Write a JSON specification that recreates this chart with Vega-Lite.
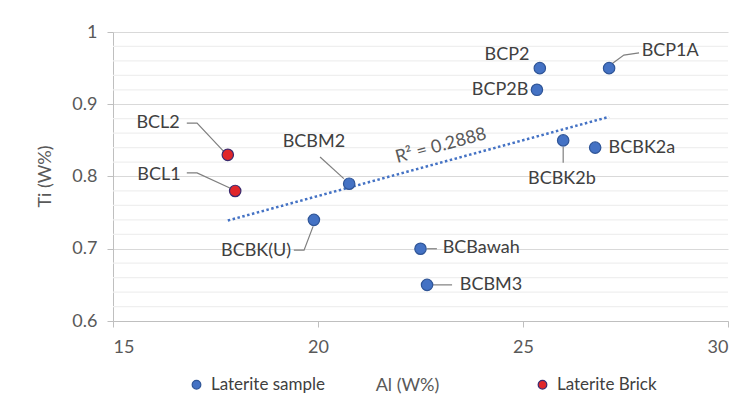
{
  "$schema": "https://vega.github.io/schema/vega-lite/v6.json",
  "width": 615,
  "height": 289,
  "autosize": {"type": "none"},
  "padding": {"left": 113, "top": 32, "right": 25, "bottom": 99},
  "background": "white",
  "config": {
    "font": "Lato",
    "view": {"stroke": null},
    "axis": {"labelFont": "Lato", "titleFont": "Lato"}
  },
  "datasets": {
    "pts": [
      {"name": "BCL2", "al": 17.8, "ti": 0.83, "type": "Laterite Brick"},
      {"name": "BCL1", "al": 17.98, "ti": 0.78, "type": "Laterite Brick"},
      {"name": "BCBM2", "al": 20.76, "ti": 0.79, "type": "Laterite sample"},
      {"name": "BCBK(U)", "al": 19.9, "ti": 0.74, "type": "Laterite sample"},
      {"name": "BCBawah", "al": 22.5, "ti": 0.70, "type": "Laterite sample"},
      {"name": "BCBM3", "al": 22.66, "ti": 0.65, "type": "Laterite sample"},
      {"name": "BCP2", "al": 25.41, "ti": 0.95, "type": "Laterite sample"},
      {"name": "BCP2B", "al": 25.34, "ti": 0.92, "type": "Laterite sample"},
      {"name": "BCP1A", "al": 27.1, "ti": 0.95, "type": "Laterite sample"},
      {"name": "BCBK2b", "al": 25.98, "ti": 0.85, "type": "Laterite sample"},
      {"name": "BCBK2a", "al": 26.76, "ti": 0.84, "type": "Laterite sample"}
    ],
    "minor": [
      {"v": 0.62}, {"v": 0.64}, {"v": 0.66}, {"v": 0.68},
      {"v": 0.72}, {"v": 0.74}, {"v": 0.76}, {"v": 0.78},
      {"v": 0.82}, {"v": 0.84}, {"v": 0.86}, {"v": 0.88},
      {"v": 0.92}, {"v": 0.94}, {"v": 0.96}, {"v": 0.98}
    ],
    "labels": [
      {"name": "BCL2", "lx": 16.1, "ly": 0.874},
      {"name": "BCL1", "lx": 16.12, "ly": 0.802},
      {"name": "BCBM2", "lx": 19.9, "ly": 0.848},
      {"name": "BCBK(U)", "lx": 18.49, "ly": 0.697},
      {"name": "BCBawah", "lx": 23.98, "ly": 0.701},
      {"name": "BCBM3", "lx": 24.22, "ly": 0.65},
      {"name": "BCP2", "lx": 24.61, "ly": 0.968},
      {"name": "BCP2B", "lx": 24.44, "ly": 0.92},
      {"name": "BCP1A", "lx": 28.59, "ly": 0.974},
      {"name": "BCBK2b", "lx": 25.95, "ly": 0.797},
      {"name": "BCBK2a", "lx": 27.9, "ly": 0.839}
    ],
    "leaders": [
      {"name": "BCL2", "k": 1, "x": 16.8, "y": 0.874},
      {"name": "BCL2", "k": 2, "x": 17.05, "y": 0.874},
      {"name": "BCL2", "k": 3, "x": 17.71, "y": 0.834},
      {"name": "BCL1", "k": 1, "x": 16.8, "y": 0.805},
      {"name": "BCL1", "k": 2, "x": 17.05, "y": 0.805},
      {"name": "BCL1", "k": 3, "x": 17.85, "y": 0.784},
      {"name": "BCBM2", "k": 1, "x": 20.05, "y": 0.827},
      {"name": "BCBM2", "k": 2, "x": 20.63, "y": 0.797},
      {"name": "BCBK(U)", "k": 1, "x": 19.41, "y": 0.698},
      {"name": "BCBK(U)", "k": 2, "x": 19.66, "y": 0.698},
      {"name": "BCBK(U)", "k": 3, "x": 19.88, "y": 0.731},
      {"name": "BCBawah", "k": 1, "x": 22.66, "y": 0.70},
      {"name": "BCBawah", "k": 2, "x": 22.9, "y": 0.70},
      {"name": "BCBM3", "k": 1, "x": 22.8, "y": 0.65},
      {"name": "BCBM3", "k": 2, "x": 23.27, "y": 0.65},
      {"name": "BCP1A", "k": 1, "x": 27.17, "y": 0.956},
      {"name": "BCP1A", "k": 2, "x": 27.46, "y": 0.968},
      {"name": "BCP1A", "k": 3, "x": 27.83, "y": 0.971},
      {"name": "BCBK2b", "k": 1, "x": 25.98, "y": 0.841},
      {"name": "BCBK2b", "k": 2, "x": 25.98, "y": 0.819}
    ],
    "rsq": [{"t": "R² = 0.2888", "x": 23.0, "y": 0.842}]
  },
  "layer": [
    {
      "data": {"name": "minor"},
      "mark": {"type": "rule", "color": "#efefef", "strokeWidth": 1.2},
      "encoding": {
        "y": {"field": "v", "type": "quantitative"}
      }
    },
    {
      "data": {"name": "pts"},
      "mark": {"type": "point", "opacity": 0},
      "encoding": {
        "x": {
          "field": "al", "type": "quantitative",
          "scale": {"domain": [15, 30], "nice": false, "zero": false},
          "axis": {
            "values": [15, 20, 25, 30], "grid": false, "title": "Al (W%)",
            "domainColor": "#bfbfbf", "tickColor": "#bfbfbf", "tickSize": 6,
            "labelFontSize": 18, "labelColor": "#595959", "labelPadding": 11,
            "titleFontSize": 18, "titleFontWeight": "normal", "titleColor": "#595959",
            "titleX": 294, "titleY": 64, "titleBaseline": "middle"
          }
        },
        "y": {
          "field": "ti", "type": "quantitative",
          "scale": {"domain": [0.6, 1], "nice": false, "zero": false},
          "axis": {
            "values": [0.6, 0.7, 0.8, 0.9, 1],
            "format": ".1~f",
            "grid": true, "gridColor": "#d9d9d9", "gridWidth": 1.2, "title": "Ti (W%)",
            "domainColor": "#bfbfbf", "tickColor": "#bfbfbf", "tickSize": 6,
            "labelFontSize": 18, "labelColor": "#595959", "labelPadding": 10,
            "titleFontSize": 18, "titleFontWeight": "normal", "titleColor": "#595959",
            "titleX": -68, "titleY": 144, "titleAngle": -90, "titleBaseline": "middle", "titleAlign": "center"
          }
        }
      }
    },
    {
      "data": {"name": "pts"},
      "transform": [{"regression": "ti", "on": "al"}],
      "mark": {"type": "line", "color": "#4472C4", "strokeWidth": 2.5, "strokeDash": [2.5, 2.5]},
      "encoding": {
        "x": {"field": "al", "type": "quantitative"},
        "y": {"field": "ti", "type": "quantitative"}
      }
    },
    {
      "data": {"name": "leaders"},
      "mark": {"type": "line", "color": "#7f7f7f", "strokeWidth": 1.2},
      "encoding": {
        "x": {"field": "x", "type": "quantitative"},
        "y": {"field": "y", "type": "quantitative"},
        "detail": {"field": "name"},
        "order": {"field": "k"}
      }
    },
    {
      "data": {"name": "pts"},
      "mark": {"type": "circle", "size": 130, "opacity": 1, "strokeWidth": 1.2},
      "encoding": {
        "x": {"field": "al", "type": "quantitative"},
        "y": {"field": "ti", "type": "quantitative"},
        "fill": {
          "field": "type", "type": "nominal",
          "scale": {"domain": ["Laterite sample", "Laterite Brick"], "range": ["#4472C4", "#E0262A"]},
          "legend": {
            "title": null, "orient": "none", "direction": "horizontal",
            "legendX": 75, "legendY": 344, "columnPadding": 208,
            "symbolSize": 75, "symbolType": "circle", "labelFontSize": 17, "labelColor": "#404040",
            "labelFont": "Lato", "labelOffset": 6, "symbolStrokeWidth": 1.2
          }
        },
        "stroke": {
          "field": "type", "type": "nominal",
          "scale": {"domain": ["Laterite sample", "Laterite Brick"], "range": ["#2F5597", "#3A2A6E"]},
          "legend": {
            "title": null, "orient": "none", "direction": "horizontal",
            "legendX": 75, "legendY": 344, "columnPadding": 208,
            "symbolSize": 75, "symbolType": "circle", "labelFontSize": 17, "labelColor": "#404040",
            "labelFont": "Lato", "labelOffset": 6, "symbolStrokeWidth": 1.2
          }
        }
      }
    },
    {
      "data": {"name": "labels"},
      "mark": {"type": "text", "fontSize": 18, "color": "#404040", "align": "center", "baseline": "middle", "font": "Lato"},
      "encoding": {
        "x": {"field": "lx", "type": "quantitative"},
        "y": {"field": "ly", "type": "quantitative"},
        "text": {"field": "name"}
      }
    },
    {
      "data": {"name": "rsq"},
      "mark": {"type": "text", "fontSize": 18, "color": "#595959", "align": "center", "baseline": "middle", "angle": -15, "font": "Lato"},
      "encoding": {
        "x": {"field": "x", "type": "quantitative"},
        "y": {"field": "y", "type": "quantitative"},
        "text": {"field": "t"}
      }
    }
  ]
}
